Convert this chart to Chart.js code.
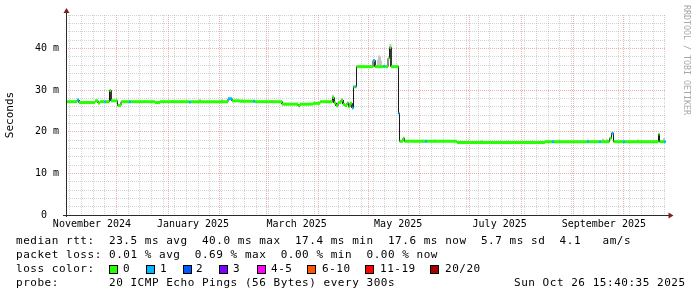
<!DOCTYPE html>
<html><head><meta charset="utf-8">
<script src="https://cdn.jsdelivr.net/npm/chart.js@4.4.1/dist/chart.umd.min.js"></script>
<style>
html,body{margin:0;padding:0;background:#fff;}
#wrap{position:relative;width:697px;height:297px;overflow:hidden;background:#fff;}
#c{position:absolute;left:0;top:0;}
.t{position:absolute;font-family:'DejaVu Sans Mono',monospace;font-size:11px;line-height:14px;letter-spacing:0.53px;white-space:pre;color:#000;}
.box{position:absolute;width:9px;height:9px;box-sizing:border-box;border:1px solid #000;}
#wm{position:absolute;left:682px;top:5px;font-family:'DejaVu Sans Mono',monospace;font-size:8.3px;line-height:10px;writing-mode:vertical-rl;color:#a8a8a8;white-space:pre;}
</style></head><body>
<div id="wrap">
<canvas id="c" width="697" height="297"></canvas>
<div id="wm">RRDTOOL / TOBI OETIKER</div>
<div class="t" style="left:16px;top:234px">median rtt:  23.5 ms avg  40.0 ms max  17.4 ms min  17.6 ms now  5.7 ms sd  4.1   am/s</div>
<div class="t" style="left:16px;top:248px">packet loss: 0.01 % avg  0.69 % max  0.00 % min  0.00 % now</div>
<div class="t" style="left:16px;top:262px">loss color:</div>
<div id="losslegend"></div>
<div class="t" style="left:16px;top:276px">probe:       20 ICMP Echo Pings (56 Bytes) every 300s</div>
<div class="t" style="left:514px;top:276px">Sun Oct 26 15:40:35 2025</div>
</div>
<script>
// ---- time axis: 360 days ending Sun Oct 26 2025 15:40:35 ----
const START_MS = Date.UTC(2024, 9, 31, 15, 40, 35);
const SPAN_DAYS = 360;
const DAY_MS = 86400000;

// ---- tick data ----
const monthStarts = ['2024-11-01','2024-12-01','2025-01-01','2025-02-01','2025-03-01','2025-04-01',
                     '2025-05-01','2025-06-01','2025-07-01','2025-08-01','2025-09-01','2025-10-01'];
const xLabelText = ['November 2024','January 2025','March 2025','May 2025','July 2025','September 2025'];
const xLabelDay  = [15.6, 76.2, 138.4, 199.3, 260.2, 322.7];
const yLabelValue = [0, 10, 20, 30, 40];
const yLabelText  = ['0  ', '10 m', '20 m', '30 m', '40 m'];

// ---- median RTT series (piecewise runs): start day, median ms, lost pings of 20 ----
const runStartDay = [0, 6.6, 7.8, 17.4, 19.2, 20.4, 23.1, 24.0, 26.1, 27.0,
  30.9, 33.0, 37.8, 39.0, 53.4, 56.4, 73.8, 75.0, 97.2, 99.6,
  104.4, 112.2, 113.4, 129.6, 139.2, 140.4, 148.2, 152.4, 159.9, 160.8,
  162.0, 163.2, 165.0, 166.2, 167.4, 168.6, 169.5, 170.4, 171.6, 172.5,
  173.4, 174.3, 184.2, 185.4, 190.5, 191.4, 193.2, 194.1, 195.0, 199.5,
  200.1, 202.2, 203.1, 215.4, 216.6, 234.6, 287.4, 291.6, 292.8, 312.9,
  313.8, 319.8, 321.0, 326.1, 327.3, 328.5, 334.2, 335.4, 355.5, 356.1,
  358.8];
const runMedianMs = [27.2, 27.6, 27.0, 27.4, 26.9, 27.2, 27.2, 27.2, 29.9, 27.4,
  26.3, 27.2, 27.2, 27.2, 27.0, 27.2, 27.1, 27.2, 27.9, 27.4,
  27.3, 27.3, 27.2, 26.6, 26.2, 26.6, 26.8, 27.2, 28.2, 26.9,
  26.2, 27.0, 27.6, 26.6, 26.3, 26.9, 26.0, 26.8, 25.7, 30.8,
  30.8, 35.6, 37.1, 35.6, 35.7, 35.6, 37.6, 40.2, 35.6, 24.4,
  17.7, 18.4, 17.7, 17.7, 17.7, 17.4, 17.6, 17.6, 17.6, 17.6,
  17.6, 17.6, 17.6, 18.4, 19.6, 17.6, 17.6, 17.6, 19.4, 17.6,
  17.6];
const runLoss = [0, 1, 0, 0, 0, 0, 1, 0, 0, 0,
  0, 0, 1, 0, 0, 0, 1, 0, 1, 0,
  0, 1, 0, 0, 0, 0, 0, 0, 0, 0,
  0, 0, 0, 0, 0, 0, 0, 0, 1, 0,
  1, 0, 1, 0, 1, 0, 0, 0, 0, 1,
  0, 0, 0, 1, 0, 0, 0, 1, 0, 1,
  0, 1, 0, 0, 1, 0, 1, 0, 0, 0,
  1];
const DATA_END_DAY = 359.8;

// ---- smoke (spread of the 20 pings): day, low ms, high ms ----
const smokeDay   = [80.4, 93.6, 105.6, 160.2, 187.2, 187.8, 188.4, 189.0, 194.7, 213.9, 221.4, 249.6, 295.8, 313.2, 322.2, 324.6, 343.2, 358.8];
const smokeLowMs = [27.2, 27.2, 27.2, 27.2, 35.6, 35.6, 35.6, 35.6, 39.8, 17.7, 17.7, 17.4, 17.6, 17.6, 17.6, 17.6, 17.6, 17.6];
const smokeHighMs= [27.8, 27.8, 27.8, 28.8, 37.2, 38.3, 38.0, 37.0, 41.0, 18.1, 18.1, 18.0, 18.1, 18.1, 18.3, 18.2, 18.1, 18.4];

// ---- loss colour legend ----
const lossLabels = ['0','1','2','3','4-5','6-10','11-19','20/20'];
const lossColors = ['#26ff00','#00b8ff','#0059ff','#7e00ff','#ff00ff','#ff5500','#ff0000','#a10000'];
const lossBoxX   = [109, 146, 183, 219, 257, 307, 365, 430];
const lossTextX  = [123, 160, 196, 233, 271, 322, 380, 445];

const lossIndex = n => n <= 3 ? n : n <= 5 ? 4 : n <= 10 ? 5 : n <= 19 ? 6 : 7;
const dayOf = s => { const [y,m,d] = s.split('-').map(Number); return (Date.UTC(y, m-1, d) - START_MS) / DAY_MS; };

// legend boxes (HTML)
const ll = document.getElementById('losslegend');
lossLabels.forEach((lab, i) => {
  const b = document.createElement('div');
  b.className = 'box'; b.style.left = lossBoxX[i] + 'px'; b.style.top = '265px'; b.style.background = lossColors[i];
  ll.appendChild(b);
  const t = document.createElement('div');
  t.className = 't'; t.style.left = lossTextX[i] + 'px'; t.style.top = '262px'; t.textContent = lab;
  ll.appendChild(t);
});

// points for runs
const pts = [];
runStartDay.forEach((s, i) => {
  const e = i + 1 < runStartDay.length ? runStartDay[i+1] : DATA_END_DAY;
  pts.push({x: s, y: runMedianMs[i]}, {x: e, y: runMedianMs[i]});
});
// smoke as vertical strokes
const smokePts = [];
smokeDay.forEach((d, i) => { smokePts.push({x: d, y: smokeLowMs[i]}, {x: d, y: smokeHighMs[i]}); });

// x ticks: month lines (major), Sunday lines (minor), label positions
const monthDays = monthStarts.map(dayOf);
const xTicks = [];
monthDays.forEach(d => xTicks.push({value: d, kind: 'major', text: ''}));
xLabelDay.forEach((d, i) => xTicks.push({value: d, kind: 'label', text: xLabelText[i]}));
for (let t = Date.UTC(2024, 10, 1); t < START_MS + SPAN_DAYS * DAY_MS; t += DAY_MS) {
  const dt = new Date(t);
  if (dt.getUTCDay() === 0 && dt.getUTCDate() !== 1) xTicks.push({value: (t - START_MS) / DAY_MS, kind: 'minor', text: ''});
}
xTicks.sort((a, b) => a.value - b.value);
const yTicks = [];
for (let v = 0; v <= 48; v += 2) yTicks.push(v);

const MAJOR = 'rgba(222,80,80,0.45)';
const MINOR = 'rgba(143,143,143,0.38)';
const CLEAR = 'rgba(0,0,0,0)';

const axisArrows = {
  id: 'axisArrows',
  afterDraw(chart) {
    const {ctx, chartArea: a} = chart;
    ctx.save();
    ctx.strokeStyle = '#2a2a2a'; ctx.lineWidth = 1;
    ctx.beginPath();
    ctx.moveTo(a.left + 0.5, a.bottom + 2); ctx.lineTo(a.left + 0.5, a.top - 3);
    ctx.moveTo(a.left - 3, a.bottom + 0.5); ctx.lineTo(a.right + 3, a.bottom + 0.5);
    ctx.stroke();
    ctx.fillStyle = '#7f1f1f';
    ctx.beginPath(); ctx.moveTo(a.left + 0.5, a.top - 7); ctx.lineTo(a.left - 2.5, a.top - 2); ctx.lineTo(a.left + 3.5, a.top - 2); ctx.closePath(); ctx.fill();
    ctx.beginPath(); ctx.moveTo(a.right + 7.5, a.bottom + 0.5); ctx.lineTo(a.right + 2.5, a.bottom - 2.5); ctx.lineTo(a.right + 2.5, a.bottom + 3.5); ctx.closePath(); ctx.fill();
    ctx.restore();
  }
};

Chart.defaults.font.family = "'DejaVu Sans Mono', monospace";
Chart.defaults.color = '#000';

new Chart(document.getElementById('c'), {
  type: 'line',
  data: {
    datasets: [
      {
        data: pts,
        borderWidth: 3,
        borderColor: lossColors[0],
        borderCapStyle: 'butt',
        pointRadius: 0,
        tension: 0,
        fill: false,
        segment: {
          borderColor: c => (c.p0DataIndex % 2 === 0)
            ? lossColors[lossIndex(runLoss[c.p0DataIndex / 2])]
            : CLEAR
        }
      },
      {
        data: pts,
        borderWidth: 1,
        borderColor: '#1a1a1a',
        pointRadius: 0,
        tension: 0,
        fill: false
      },
      {
        data: smokePts,
        borderWidth: 2,
        borderColor: '#c4c4c4',
        borderCapStyle: 'butt',
        pointRadius: 0,
        tension: 0,
        fill: false,
        segment: { borderColor: c => (c.p0DataIndex % 2 === 0) ? '#c4c4c4' : CLEAR }
      }
    ]
  },
  options: {
    responsive: false,
    devicePixelRatio: 1,
    animation: false,
    events: [],
    layout: {padding: {left: 0, top: 15, right: 31, bottom: 0}},
    plugins: {legend: {display: false}, tooltip: {enabled: false}},
    scales: {
      x: {
        type: 'linear', min: 0, max: SPAN_DAYS,
        afterFit: s => { s.height = 82; },
        afterBuildTicks: s => { s.ticks = xTicks.map(t => ({value: t.value})); },
        ticks: {
          autoSkip: false, maxRotation: 0, padding: 3.5,
          font: {size: 10},
          callback: (v, i) => xTicks[i] ? xTicks[i].text : ''
        },
        grid: {
          drawTicks: false,
          color: c => { const t = xTicks[c.index]; return !t ? CLEAR : t.kind === 'major' ? MAJOR : t.kind === 'minor' ? MINOR : CLEAR; },
          lineWidth: 1
        },
        border: {display: false, dash: [1, 1]}
      },
      y: {
        type: 'linear', min: 0, max: 48,
        afterFit: s => { s.width = 66; },
        afterBuildTicks: s => { s.ticks = yTicks.map(v => ({value: v})); },
        ticks: {
          autoSkip: false, padding: 7,
          font: {size: 10},
          callback: v => { const k = yLabelValue.indexOf(v); return k >= 0 ? yLabelText[k] : ''; }
        },
        grid: {
          drawTicks: false,
          color: c => (c.tick && c.tick.value % 10 === 0) ? MAJOR : MINOR,
          lineWidth: 1
        },
        border: {display: false, dash: [1, 1]},
        title: {display: true, text: 'Seconds', font: {size: 11}, padding: {top: 4, bottom: 0}}
      }
    }
  },
  plugins: [axisArrows]
});
</script>
</body></html>
